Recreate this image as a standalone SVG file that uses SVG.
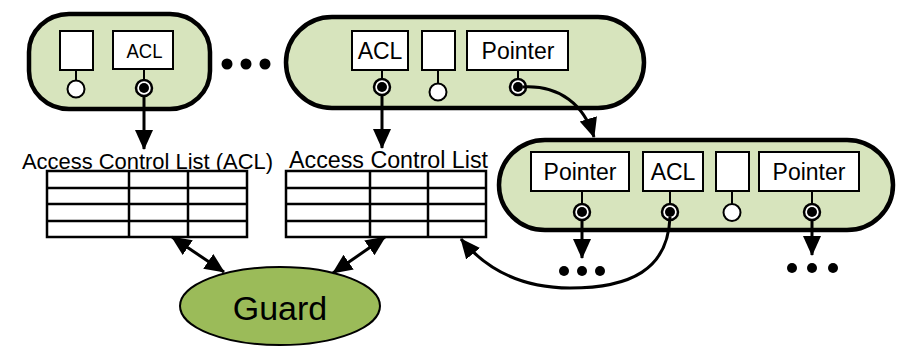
<svg xmlns="http://www.w3.org/2000/svg" width="897" height="347" viewBox="0 0 897 347">
<defs>
<marker id="ah" viewBox="0 0 20 20" refX="19" refY="10" markerWidth="20" markerHeight="20" markerUnits="userSpaceOnUse" orient="auto-start-reverse">
<path d="M0,1 L20,10 L0,19 z" fill="#000"/>
</marker>
<style>
.pill{fill:#d7e4bd;stroke:#000;stroke-width:4.5}
.box{fill:#fff;stroke:#000;stroke-width:2}
.stem{stroke:#000;stroke-width:2}
.wc{fill:#fff;stroke:#000;stroke-width:2}
.oc{fill:#fff;stroke:#000;stroke-width:2.5}
.ic{fill:#000}
.lbl{font-family:"Liberation Sans",Arial,sans-serif;fill:#000;text-anchor:middle}
.tbl{fill:#fff;stroke:#000;stroke-width:2.5}
.tl{stroke:#000;stroke-width:2.5}
.dot{fill:#000}
.con{fill:none;stroke:#000;stroke-width:3}
</style>
</defs>

<g id="pill1">
<rect class="pill" x="29" y="14" width="181" height="95" rx="40" ry="38"/>
<rect class="box" x="60" y="31" width="33" height="39"/>
<line class="stem" x1="76" y1="70" x2="76" y2="80"/>
<circle class="wc" cx="76" cy="89" r="8.5"/>
<rect class="box" x="113" y="31" width="60" height="38"/>
<text class="lbl" x="144.5" y="58" font-size="21" textLength="36" lengthAdjust="spacingAndGlyphs">ACL</text>
<line class="stem" x1="144" y1="69" x2="144" y2="80"/>
<circle class="oc" cx="144" cy="88" r="8"/>
<circle class="ic" cx="144" cy="88" r="5"/>
</g>

<g id="ellipsis1">
<circle class="dot" cx="227" cy="64" r="5.5"/>
<circle class="dot" cx="246" cy="64" r="5.5"/>
<circle class="dot" cx="265" cy="64" r="5.5"/>
</g>

<g id="pill2">
<rect class="pill" x="286" y="17" width="358" height="91" rx="46" ry="45.5"/>
<rect class="box" x="352" y="31" width="56" height="39"/>
<text class="lbl" x="380" y="58.5" font-size="23">ACL</text>
<line class="stem" x1="382" y1="70" x2="382" y2="79"/>
<circle class="oc" cx="382" cy="87" r="8"/>
<circle class="ic" cx="382" cy="87" r="5"/>
<rect class="box" x="422" y="31" width="33" height="39"/>
<line class="stem" x1="438" y1="70" x2="438" y2="84"/>
<circle class="wc" cx="438" cy="92" r="8.5"/>
<rect class="box" x="467" y="31" width="101" height="39"/>
<text class="lbl" x="518" y="58.5" font-size="23">Pointer</text>
<line class="stem" x1="518" y1="70" x2="518" y2="79"/>
<circle class="oc" cx="518" cy="87" r="8"/>
<circle class="ic" cx="518" cy="87" r="5"/>
</g>

<g id="pill3">
<rect class="pill" x="499" y="140" width="394" height="90" rx="46" ry="45"/>
<rect class="box" x="531" y="152" width="98" height="39"/>
<text class="lbl" x="580" y="180" font-size="23">Pointer</text>
<line class="stem" x1="582" y1="191" x2="582" y2="204"/>
<circle class="oc" cx="582" cy="212" r="8"/>
<circle class="ic" cx="582" cy="212" r="5"/>
<rect class="box" x="643" y="152" width="60" height="39"/>
<text class="lbl" x="673" y="180" font-size="23">ACL</text>
<line class="stem" x1="670" y1="191" x2="670" y2="204"/>
<circle class="oc" cx="670" cy="212" r="8"/>
<circle class="ic" cx="670" cy="212" r="5"/>
<rect class="box" x="716" y="152" width="33" height="39"/>
<line class="stem" x1="732" y1="191" x2="732" y2="204"/>
<circle class="wc" cx="732" cy="212.5" r="8.5"/>
<rect class="box" x="759" y="152" width="100" height="39"/>
<text class="lbl" x="809" y="180" font-size="23">Pointer</text>
<line class="stem" x1="812" y1="191" x2="812" y2="204"/>
<circle class="oc" cx="812" cy="212" r="8"/>
<circle class="ic" cx="812" cy="212" r="5"/>
</g>

<g id="ellipsis2">
<circle class="dot" cx="564" cy="271" r="5"/>
<circle class="dot" cx="582" cy="271" r="5"/>
<circle class="dot" cx="600" cy="271" r="5"/>
</g>
<g id="ellipsis3">
<circle class="dot" cx="792" cy="268" r="5"/>
<circle class="dot" cx="812" cy="268" r="5"/>
<circle class="dot" cx="833" cy="268" r="5"/>
</g>

<g id="acl-table-1">
<text class="lbl" x="147.5" y="169" font-size="22" textLength="251" lengthAdjust="spacingAndGlyphs">Access Control List (ACL)</text>
<rect class="tbl" x="47" y="171" width="200" height="66"/>
<line class="tl" x1="129" y1="171" x2="129" y2="237"/>
<line class="tl" x1="188" y1="171" x2="188" y2="237"/>
<line class="tl" x1="47" y1="188" x2="247" y2="188"/>
<line class="tl" x1="47" y1="204" x2="247" y2="204"/>
<line class="tl" x1="47" y1="221" x2="247" y2="221"/>
</g>

<g id="acl-table-2">
<text class="lbl" x="388.5" y="168" font-size="23" textLength="199" lengthAdjust="spacingAndGlyphs">Access Control List</text>
<rect class="tbl" x="286" y="171" width="200" height="66"/>
<line class="tl" x1="370" y1="171" x2="370" y2="237"/>
<line class="tl" x1="428" y1="171" x2="428" y2="237"/>
<line class="tl" x1="286" y1="188" x2="486" y2="188"/>
<line class="tl" x1="286" y1="204" x2="486" y2="204"/>
<line class="tl" x1="286" y1="221" x2="486" y2="221"/>
</g>

<g id="guard">
<ellipse cx="280" cy="306" rx="100" ry="39" fill="#9bbb59" stroke="#000" stroke-width="2"/>
<text class="lbl" x="280" y="320" font-size="34">Guard</text>
</g>

<g id="connectors">
<path class="con" d="M144,96 L144,149" marker-end="url(#ah)"/>
<path class="con" d="M382,95 L382,148" marker-end="url(#ah)"/>
<path class="con" d="M523,87 C560,85 584,105 594,137" marker-end="url(#ah)"/>
<path class="con" d="M582,220 L582,258" marker-end="url(#ah)"/>
<path class="con" d="M812,220 L812,255" marker-end="url(#ah)"/>
<path class="con" d="M670,217 C668,270 630,288 570,288 C520,288 485,268 461,239" marker-end="url(#ah)"/>
<path class="con" d="M172,237 L224,272" marker-start="url(#ah)" marker-end="url(#ah)"/>
<path class="con" d="M385,237 L333,273" marker-start="url(#ah)" marker-end="url(#ah)"/>
</g>
</svg>
